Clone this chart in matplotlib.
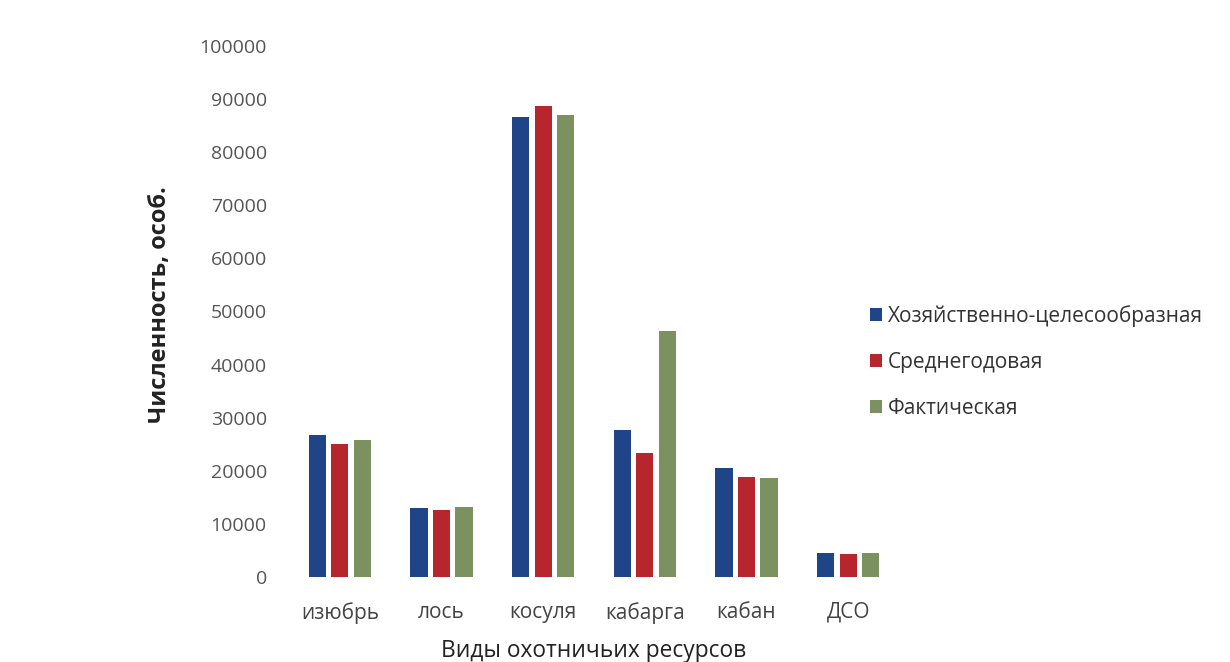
import numpy as np
import matplotlib
matplotlib.use("Agg")
import matplotlib.pyplot as plt

plt.rcParams['font.family'] = ['Open Sans', 'DejaVu Sans']

# animal numbers by species, individuals
species = ['изюбрь', 'лось', 'косуля', 'кабарга', 'кабан', 'ДСО']
optimal = [26700, 13000, 86600, 27600, 20500, 4600]
average = [25000, 12600, 88700, 23400, 18900, 4300]
actual = [25800, 13200, 87000, 46400, 18600, 4600]
series_names = ['Хозяйственно-целесообразная', 'Среднегодовая', 'Фактическая']
colors = ['#1f4488', '#b8262d', '#7b9160']
yticks = np.arange(0, 100001, 10000)

fig = plt.figure(figsize=(12.3, 6.62), dpi=100)
ax = fig.add_axes([289 / 1230, 85 / 662, 610 / 1230, 531 / 662])

x = np.arange(len(species))
width = 0.17
step = 0.222
for i, (vals, name, c) in enumerate(zip([optimal, average, actual], series_names, colors)):
    ax.bar(x + (i - 1) * step, vals, width, color=c, label=name)

ax.set_xlim(-0.5, len(species) - 0.5)
ax.set_ylim(0, 100000)
ax.set_yticks(yticks)
ax.set_yticklabels([str(v) for v in yticks])
ax.set_xticks(x)
ax.set_xticklabels(species)
ax.tick_params(axis='y', length=0, pad=16, labelsize=14, labelcolor='#555555')
ax.tick_params(axis='x', length=0, pad=18, labelsize=15, labelcolor='#444444')
for s in ax.spines.values():
    s.set_visible(False)

ax.set_xlabel('Виды охотничьих ресурсов', fontsize=16.4, color='#222222', labelpad=11)
ax.set_ylabel('Численность, особ.', fontsize=17, fontweight='bold', color='#222222')
ax.yaxis.set_label_coords(-(289 - 172) / 610, (662 - 305 - 85) / 531)

fig.legend(*ax.get_legend_handles_labels(), loc='center left',
           bbox_to_anchor=(860 / 1230, 1 - 362 / 662), frameon=False,
           fontsize=15, handlelength=0.55, handleheight=0.55, handletextpad=0.3,
           labelspacing=1.2, labelcolor='#333333', borderpad=0)

fig.savefig('out.png', dpi=100, facecolor='white')
